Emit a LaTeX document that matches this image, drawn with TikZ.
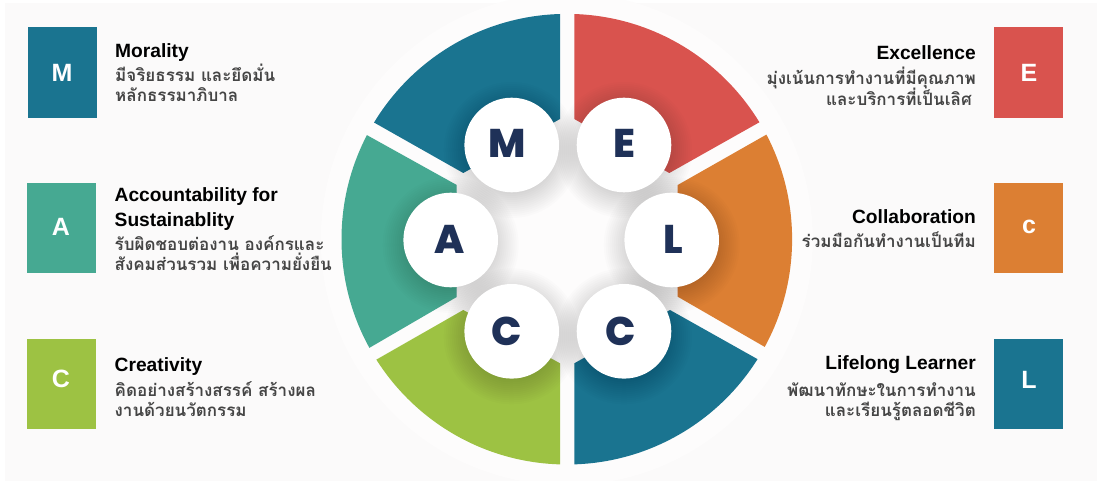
\documentclass[tikz,border=0pt]{standalone}
\usepackage{fontspec}
\setmainfont{Liberation Sans}
\newfontfamily\thaifont[Script=Thai]{Loma}
\newfontfamily\wheelfont{Poppins ExtraBold}
\definecolor{pageBg}{HTML}{FBFAFA}
\definecolor{haloBg}{HTML}{FDFCFC}
\definecolor{tealC}{HTML}{1A7490}
\definecolor{redC}{HTML}{D9534E}
\definecolor{orangeC}{HTML}{DC7F33}
\definecolor{seaC}{HTML}{46A992}
\definecolor{greenC}{HTML}{9DC243}
\definecolor{navyC}{HTML}{1F3158}
\definecolor{greyT}{HTML}{454545}
\tikzset{
  tilebox/.style={minimum width=69pt,minimum height=90.4pt,inner sep=0pt,draw=none,fill=#1},
  tileletter/.style={text=white,inner sep=0pt,font=\fontsize{25}{25}\selectfont\bfseries},
  wheeldisc/.style={circle,fill=white,minimum size=94.6pt,inner sep=0pt,text=navyC,font=\wheelfont\fontsize{40}{40}\selectfont},
  titleL/.style={anchor=base west,inner sep=0pt,text=black,font=\fontsize{19.2}{23}\selectfont\bfseries},
  titleR/.style={anchor=base east,inner sep=0pt,text=black,font=\fontsize{19.2}{23}\selectfont\bfseries},
  thaiL/.style={anchor=base west,inner sep=0pt,text=greyT,font=\thaifont\fontsize{17}{22}\selectfont\bfseries},
  thaiR/.style={anchor=base east,inner sep=0pt,text=greyT,font=\thaifont\fontsize{17}{22}\selectfont\bfseries},
}
\newcommand{\softshadow}[2]{%
  \foreach \k in {0,2,...,30}{\fill[black,opacity=.012] (#1,#2+5) circle[radius=38pt+\k pt];}}
\begin{document}
\begin{tikzpicture}[x=1pt,y=-1pt]
\useasboundingbox (0,0) rectangle (1097,481);
\fill[white] (0,0) rectangle (1097,481);
\fill[pageBg] (5,3) rectangle (1097,481);
\fill[haloBg] (566.8,239.2) circle[radius=246pt];
\begin{scope}
\clip (566.8,239.2) circle[radius=225.3pt];
\fill[tealC] (560,119) -- (560,-100) -- (196,-100) -- (196.3,22) -- (463.3,173) -- cycle;
\fill[redC] (574.3,119) -- (574.3,-100) -- (937.5,-100) -- (937.5,22) -- (669.3,173) -- cycle;
\fill[orangeC] (677.7,185) -- (941.7,35) -- (1000,240) -- (937.7,446.7) -- (677.7,296.7) -- cycle;
\fill[seaC] (456.7,185) -- (186.7,35) -- (130,240) -- (195.7,449) -- (456.7,297) -- cycle;
\fill[greenC] (463.3,310) -- (202,459.1) -- (202,600) -- (560,600) -- (560,363.3) -- cycle;
\fill[tealC] (670,310) -- (930,456) -- (930,600) -- (574.3,600) -- (574.3,363.3) -- cycle;
\end{scope}
\softshadow{511.7}{145}
\softshadow{624}{145}
\softshadow{450.7}{240}
\softshadow{671.7}{240}
\softshadow{511.7}{331.3}
\softshadow{624}{331.3}
\node[wheeldisc] (dM) at (511.7,145) {\kern-10pt\raisebox{3pt}{M}};
\node[wheeldisc] (dE) at (624,145) {\raisebox{3pt}{E}};
\node[wheeldisc] (dA) at (450.7,240) {\kern-2pt\raisebox{1pt}{A}};
\node[wheeldisc] (dL) at (671.7,240) {\kern3pt\raisebox{1pt}{L}};
\node[wheeldisc] (dC) at (511.7,331.3) {\kern-10pt C};
\node[wheeldisc] (dCr) at (624,331.3) {\kern-6pt C};
% left tiles
\node[tilebox=tealC] (tM) at (62.2,72.5) {};
\node[tilebox=seaC] (tA) at (61.5,228.2) {};
\node[tilebox=greenC] (tC) at (61.5,384.2) {};
\node[tileletter] (lM) at (62,72.5) {M};
\node[tileletter] (lA) at (61,226.5) {A};
\node[tileletter] (lC) at (61,378.5) {C};
% right tiles
\node[tilebox=redC] (tE) at (1028.8,72.5) {};
\node[tilebox=orangeC] (tc) at (1028.8,228.2) {};
\node[tilebox=tealC] (tL) at (1028.8,384.2) {};
\node[tileletter] (lE) at (1029,72.5) {E};
\node[tileletter] (lc) at (1029,227) {c};
\node[tileletter] (lL) at (1029,379.5) {L};
% left text
\node[titleL] (h1) at (115,58) {Morality};
\node[thaiL] (a1) at (115,81.7) {มีจริยธรรม และยึดมั่น};
\node[thaiL] (a2) at (115,101.7) {หลักธรรมาภิบาล};
\node[titleL] (h2) at (114.5,201.7) {Accountability for};
\node[titleL] (h2b) at (114.5,226) {Sustainablity};
\node[thaiL] (b1) at (114.5,250) {รับผิดชอบต่องาน องค์กรและ};
\node[thaiL] (b2) at (114.5,270) {สังคมส่วนรวม เพื่อความยั่งยืน};
\node[titleL] (h3) at (114.5,371) {Creativity};
\node[thaiL] (c1) at (114.5,396.7) {คิดอย่างสร้างสรรค์ สร้างผล};
\node[thaiL] (c2) at (114.5,416.7) {งานด้วยนวัตกรรม};
% right text
\node[titleR] (h4) at (976,59.3) {Excellence};
\node[thaiR] (d1) at (976,84.5) {มุ่งเน้นการทำงานที่มีคุณภาพ};
\node[thaiR] (d2) at (972,105.7) {และบริการที่เป็นเลิศ};
\node[titleR] (h5) at (976,223) {Collaboration};
\node[thaiR] (e1) at (976,247.5) {ร่วมมือกันทำงานเป็นทีม};
\node[titleR] (h6) at (976,369.3) {Lifelong Learner};
\node[thaiR] (f1) at (976,396) {พัฒนาทักษะในการทำงาน};
\node[thaiR] (f2) at (976,416.7) {และเรียนรู้ตลอดชีวิต};
\end{tikzpicture}
\end{document}
